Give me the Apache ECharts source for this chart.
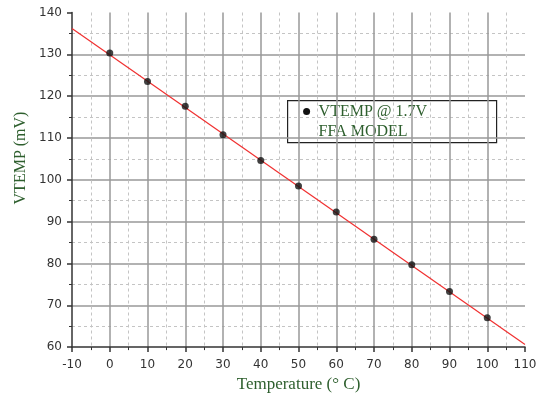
<!DOCTYPE html>
<html>
<head>
<meta charset="utf-8">
<script src="https://cdn.jsdelivr.net/npm/echarts@6/dist/echarts.min.js"></script>
<style>
  html, body { margin: 0; padding: 0; background: #fff; }
  #chart { width: 543px; height: 398px; }
</style>
</head>
<body>
<div id="chart"></div>
<script>
// Measured VTEMP at 1.7 V versus junction temperature
const temperatures = [0, 10, 20, 30, 40, 50, 60, 70, 80, 90, 100];
const vtemp = [130.3, 123.5, 117.6, 110.8, 104.6, 98.5, 92.3, 85.8, 79.7, 73.3, 67.0];

// FFA model: straight line across the full axis span
const modelTemps = [-10, 110];
const modelValues = [136.2, 60.6];

const seriesName = 'VTEMP @ 1.7V';
const modelName = 'FFA MODEL';
const xTitle = 'Temperature (° C)';
const yTitle = 'VTEMP (mV)';

const green = '#2e5f2e';
const serif = '"Liberation Serif", "Times New Roman", serif';
const sans = '"DejaVu Sans", Arial, sans-serif';

const chart = echarts.init(document.getElementById('chart'), null, { renderer: 'canvas' });

const axisCommon = {
  axisLine: { show: true, onZero: false, lineStyle: { color: '#333', width: 1.5 } },
  axisTick: { show: true, inside: false, length: 5, lineStyle: { color: '#333', width: 1.5 } },
  minorTick: { show: true, splitNumber: 2, length: 3, lineStyle: { color: '#333', width: 1 } },
  splitLine: { show: true, showMinLine: false, showMaxLine: false, lineStyle: { color: '#999', width: 1.5 } },
  minorSplitLine: { show: true, lineStyle: { color: '#c4c4c4', width: 1, type: [3, 3] } },
  axisLabel: { color: '#333', fontFamily: sans, fontSize: 12 }
};

chart.setOption({
  animation: false,
  backgroundColor: '#fff',
  grid: { left: 72, right: 18, top: 12.5, bottom: 49, containLabel: false },
  xAxis: Object.assign({}, axisCommon, {
    type: 'value',
    min: -10, max: 110, interval: 10,
    name: xTitle,
    nameLocation: 'middle',
    nameGap: 28,
    nameTextStyle: { color: green, fontFamily: serif, fontSize: 17 },
    axisLabel: Object.assign({}, axisCommon.axisLabel, { margin: 12 })
  }),
  yAxis: Object.assign({}, axisCommon, {
    type: 'value',
    min: 60, max: 140, interval: 10,
    axisLabel: Object.assign({}, axisCommon.axisLabel, { margin: 10 })
  }),
  series: [
    {
      name: modelName,
      type: 'line',
      data: modelTemps.map((t, i) => [t, modelValues[i]]),
      showSymbol: false,
      lineStyle: { color: '#f03030', width: 1.2 },
      z: 3
    },
    {
      name: seriesName,
      type: 'scatter',
      data: temperatures.map((t, i) => [t, vtemp[i]]),
      symbol: 'circle',
      symbolSize: 7,
      itemStyle: { color: '#111' },
      z: 4
    }
  ],
  graphic: [
    // y-axis title, rotated and set a little above the plot's mid-height
    {
      type: 'text',
      x: 21, y: 158,
      rotation: Math.PI / 2,
      style: { text: yTitle, fill: green, font: '16px ' + serif, align: 'center', verticalAlign: 'middle' }
    },
    // legend box
    {
      type: 'group',
      left: 287, top: 100,
      children: [
        { type: 'rect', shape: { x: 0, y: 0, width: 209, height: 42 },
          style: { fill: '#fff', stroke: '#222', lineWidth: 1.2 } },
        { type: 'circle', shape: { cx: 19, cy: 11, r: 3.5 }, style: { fill: '#111' } },
        { type: 'text', x: 31, y: 3,
          style: { text: seriesName, fill: green, font: '16px ' + serif } },
        { type: 'text', x: 31, y: 23,
          style: { text: modelName, fill: green, font: '16px ' + serif } }
      ]
    }
  ]
});
</script>
</body>
</html>
